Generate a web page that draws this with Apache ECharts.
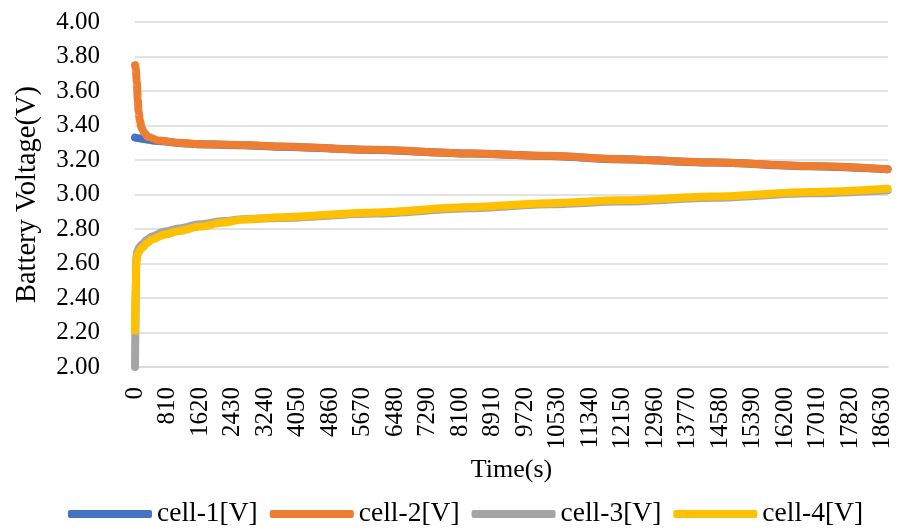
<!DOCTYPE html>
<html>
<head>
<meta charset="utf-8">
<script src="https://cdn.jsdelivr.net/npm/echarts@6/dist/echarts.min.js"></script>
<style>
html,body{margin:0;padding:0;background:#fff;}
#chart{width:907px;height:532px;}
</style>
</head>
<body>
<div id="chart"></div>
<script>
// ---- data ----
var seriesNames = ['cell-1[V]', 'cell-2[V]', 'cell-3[V]', 'cell-4[V]'];

var cell1Time = [0, 100, 200, 350, 500, 700, 1071, 1619, 2690, 3611, 5978, 8344, 10336, 12080, 14446, 16812, 18750];
var cell1Volt = [3.33, 3.326, 3.322, 3.317, 3.312, 3.308, 3.299, 3.291, 3.286, 3.277, 3.258, 3.237, 3.223, 3.204, 3.185, 3.164, 3.146];

var cell2Time = [0, 20, 45, 70, 90, 120, 167, 240, 331, 580, 1071, 1619, 2690, 3611, 5978, 8344, 10336, 12080, 14446, 16812, 18750];
var cell2Volt = [3.75, 3.73, 3.65, 3.55, 3.48, 3.43, 3.385, 3.355, 3.333, 3.313, 3.300, 3.292, 3.287, 3.278, 3.259, 3.238, 3.224, 3.205, 3.186, 3.165, 3.147];

var cell3Time = [0, 10, 20, 35, 60, 110, 167, 300, 416, 747, 1071, 1619, 2200, 2690, 3611, 5978, 8344, 10336, 12080, 14446, 16812, 18750];
var cell3Volt = [2.00, 2.20, 2.45, 2.64, 2.67, 2.695, 2.71, 2.738, 2.757, 2.785, 2.803, 2.828, 2.846, 2.857, 2.864, 2.890, 2.920, 2.943, 2.959, 2.981, 3.007, 3.025];

var cell4Time = [0, 15, 30, 60, 110, 167, 300, 416, 747, 1071, 1619, 2200, 2690, 3611, 5978, 8344, 10336, 12080, 14446, 16812, 18750];
var cell4Volt = [2.21, 2.42, 2.60, 2.645, 2.672, 2.69, 2.717, 2.739, 2.768, 2.787, 2.814, 2.838, 2.855, 2.868, 2.896, 2.927, 2.950, 2.966, 2.988, 3.014, 3.033];

var xTickStep = 810;      // tick labels 0, 810, ... 18630
var yTicks = [2.00, 2.20, 2.40, 2.60, 2.80, 3.00, 3.20, 3.40, 3.60, 3.80, 4.00];

var colors = ['#4472C4', '#ED7D31', '#A5A5A5', '#FFC000'];

function pairs(t, v) {
  var out = [];
  for (var i = 0; i < t.length; i++) out.push([t[i], v[i]]);
  return out;
}
var allTimes = [cell1Time, cell2Time, cell3Time, cell4Time];
var allVolts = [cell1Volt, cell2Volt, cell3Volt, cell4Volt];

var font = '"Liberation Serif", "Times New Roman", serif';

var chart = echarts.init(document.getElementById('chart'), null, {renderer: 'canvas'});
var series = seriesNames.map(function (name, i) {
  return {
    name: name,
    type: 'line',
    data: pairs(allTimes[i], allVolts[i]),
    showSymbol: false,
    symbol: 'none',
    smooth: 0.3,
    smoothMonotone: 'x',
    lineStyle: {color: colors[i], width: 8, cap: 'round', join: 'round'},
    itemStyle: {color: colors[i]},
    z: 2 + i
  };
});

chart.setOption({
  animation: false,
  backgroundColor: '#ffffff',
  color: colors,
  grid: {left: 135, right: 19, top: 22, bottom: 165, containLabel: false},
  xAxis: {
    type: 'value',
    min: 0,
    max: 18760,
    interval: xTickStep,
    name: 'Time(s)',
    nameLocation: 'middle',
    nameGap: 88,
    nameTextStyle: {fontFamily: font, fontSize: 26, color: '#000'},
    axisLine: {show: true, lineStyle: {color: '#D9D9D9', width: 1.5}},
    axisTick: {show: false},
    splitLine: {show: false},
    axisLabel: {
      rotate: 90,
      margin: 20,
      showMaxLabel: false,
      fontFamily: font,
      fontSize: 25,
      color: '#000',
      formatter: function (v) { return (v % xTickStep === 0) ? String(v) : ''; }
    }
  },
  yAxis: {
    type: 'value',
    min: yTicks[0],
    max: yTicks[yTicks.length - 1],
    interval: 0.2,
    name: 'Battery Voltage(V)',
    nameLocation: 'middle',
    nameGap: 93,
    nameTextStyle: {fontFamily: font, fontSize: 28.5, color: '#000'},
    axisLine: {show: false},
    axisTick: {show: false},
    splitLine: {show: true, lineStyle: {color: '#D9D9D9', width: 1.5}},
    axisLabel: {
      margin: 35,
      fontFamily: font,
      fontSize: 25,
      color: '#000',
      formatter: function (v) { return v.toFixed(2); }
    }
  },
  legend: {
    data: seriesNames,
    left: 68,
    top: 499,
    padding: 0,
    itemGap: 12,
    itemWidth: 84,
    itemHeight: 8,
    icon: 'roundRect',
    textStyle: {fontFamily: font, fontSize: 27.5, color: '#000', lineHeight: 30}
  },
  series: series
});
</script>
</body>
</html>
